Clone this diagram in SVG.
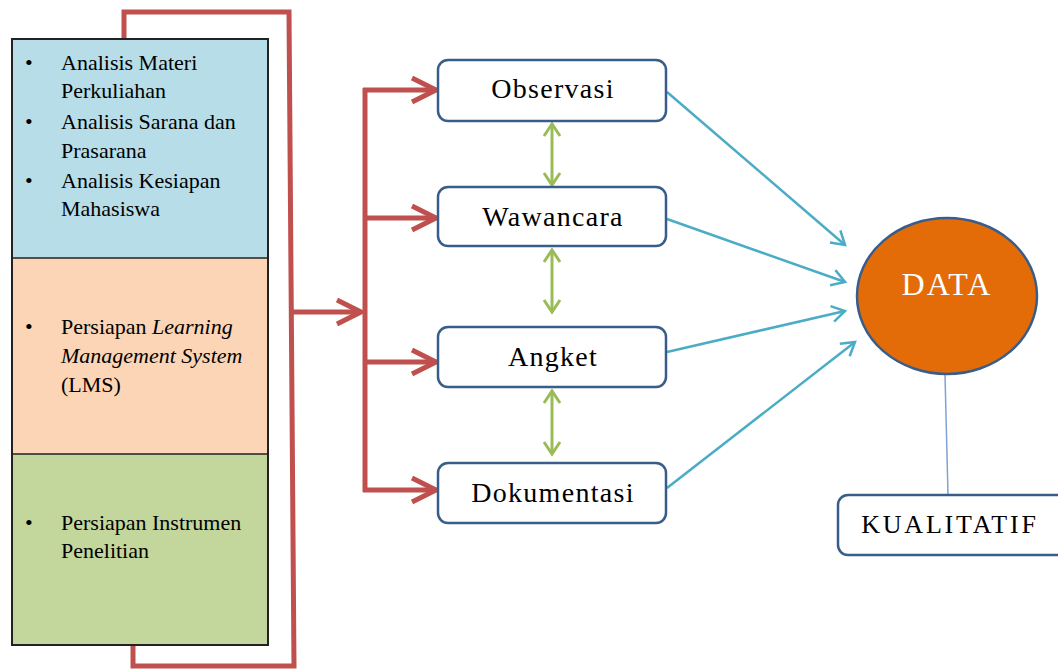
<svg xmlns="http://www.w3.org/2000/svg" width="1058" height="670" viewBox="0 0 1058 670">
<defs>
<style>
.t{font-family:"Liberation Serif","Times New Roman",serif;fill:#000}
.lt{font-size:22px}
.bx{font-size:28px;letter-spacing:1.3px}
.red{fill:none;stroke:#c0504d;stroke-width:5}
.grn{fill:none;stroke:#9bbb59;stroke-width:3}
.teal{fill:none;stroke:#4bacc6;stroke-width:2.5}
.node{fill:#fff;stroke:#385d8a;stroke-width:2.5}
</style>
<marker id="mr" markerUnits="userSpaceOnUse" markerWidth="40" markerHeight="40" orient="auto" overflow="visible">
<path d="M-24,-12 L0,0 L-24,12" fill="none" stroke="#c0504d" stroke-width="5"/>
</marker>
<marker id="mg" markerUnits="userSpaceOnUse" markerWidth="30" markerHeight="30" orient="auto-start-reverse" overflow="visible">
<path d="M-12,-8 L0,0 L-12,8" fill="none" stroke="#9bbb59" stroke-width="3"/>
</marker>
<marker id="mt" markerUnits="userSpaceOnUse" markerWidth="30" markerHeight="30" orient="auto" overflow="visible">
<path d="M-13,-8 L0,0 L-13,8" fill="none" stroke="#4bacc6" stroke-width="2.5"/>
</marker>
</defs>
<rect width="1058" height="670" fill="#fff"/>
<g id="connectors">
<path class="red" d="M124,40 V12 H289 L294,666 H133 V645"/>
<path class="red" d="M292,312 H361" marker-end="url(#mr)"/>
<path class="red" d="M365,88 V492"/>
<path class="red" d="M363,90 H436" marker-end="url(#mr)"/>
<path class="red" d="M363,218 H436" marker-end="url(#mr)"/>
<path class="red" d="M363,362 H436" marker-end="url(#mr)"/>
<path class="red" d="M363,490 H436" marker-end="url(#mr)"/>
<path class="grn" d="M552,124 V185" marker-start="url(#mg)" marker-end="url(#mg)"/>
<path class="grn" d="M552,250 V312" marker-start="url(#mg)" marker-end="url(#mg)"/>
<path class="grn" d="M552,391 V454" marker-start="url(#mg)" marker-end="url(#mg)"/>
<path class="teal" d="M667,92 L845,245" marker-end="url(#mt)"/>
<path class="teal" d="M667,219 L845,282" marker-end="url(#mt)"/>
<path class="teal" d="M667,352 L845,311" marker-end="url(#mt)"/>
<path class="teal" d="M667,488 L855,342" marker-end="url(#mt)"/>
<path d="M945,375 L948,495" fill="none" stroke="#7fa3d4" stroke-width="1.5"/>
</g>
<g id="left-box">
<rect x="12" y="39" width="256" height="219" fill="#b7dde8"/>
<rect x="12" y="258" width="256" height="196" fill="#fbd5b5"/>
<rect x="12" y="454" width="256" height="191" fill="#c3d69b"/>
<path d="M12,258 H268 M12,454 H268" stroke="#222" stroke-width="1.5"/>
<rect x="12" y="39" width="256" height="606" fill="none" stroke="#222" stroke-width="2"/>
<g class="t lt">
<text x="25" y="70">•</text><text x="61" y="70">Analisis Materi</text>
<text x="61" y="98">Perkuliahan</text>
<text x="25" y="129">•</text><text x="61" y="129">Analisis Sarana dan</text>
<text x="61" y="158">Prasarana</text>
<text x="25" y="188">•</text><text x="61" y="188">Analisis Kesiapan</text>
<text x="61" y="216">Mahasiswa</text>
<text x="25" y="334">•</text><text x="61" y="334">Persiapan <tspan font-style="italic">Learning</tspan></text>
<text x="61" y="363" font-style="italic">Management System</text>
<text x="61" y="392">(LMS)</text>
<text x="25" y="530">•</text><text x="61" y="530">Persiapan Instrumen</text>
<text x="61" y="558">Penelitian</text>
</g>
</g>
<g id="observasi">
<rect class="node" x="438" y="60" width="228" height="61" rx="10"/>
<text class="t bx" x="553" y="98" text-anchor="middle">Observasi</text>
</g>
<g id="wawancara">
<rect class="node" x="438" y="187" width="228" height="59" rx="10"/>
<text class="t bx" x="553" y="226" text-anchor="middle">Wawancara</text>
</g>
<g id="angket">
<rect class="node" x="438" y="327" width="228" height="60" rx="10"/>
<text class="t bx" x="553" y="366" text-anchor="middle">Angket</text>
</g>
<g id="dokumentasi">
<rect class="node" x="438" y="463" width="228" height="60" rx="10"/>
<text class="t bx" x="553" y="502" text-anchor="middle">Dokumentasi</text>
</g>
<g id="data">
<ellipse cx="947" cy="296" rx="90" ry="78" fill="#e36c09" stroke="#385d8a" stroke-width="2.5"/>
<text x="947" y="295" text-anchor="middle" font-family="Liberation Serif,serif" font-size="32" letter-spacing="2" fill="#fff">DATA</text>
</g>
<g id="kualitatif">
<rect class="node" x="838" y="495" width="240" height="60" rx="10"/>
<text class="t" x="950" y="533" text-anchor="middle" font-size="26" letter-spacing="2.8">KUALITATIF</text>
</g>
</svg>
